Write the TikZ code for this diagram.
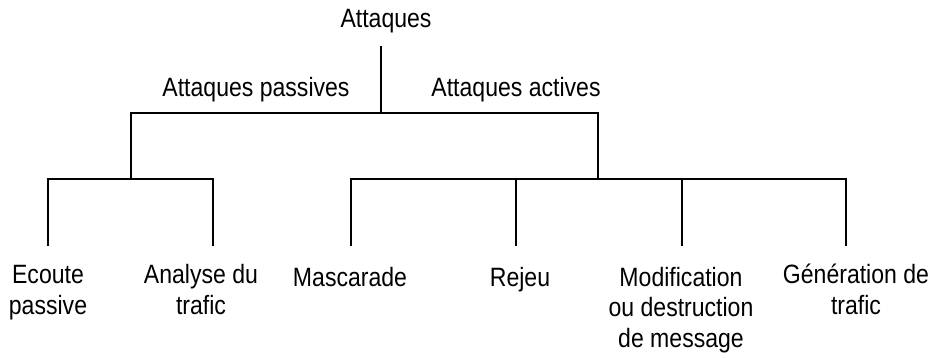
\documentclass[tikz,border=0pt]{standalone}
\usepackage{fontspec}
\setmainfont[FakeStretch=0.87]{Liberation Sans}
\begin{document}
\begin{tikzpicture}[x=1pt,y=-1pt,
  lbl/.style={inner sep=0pt,align=center,anchor=base,
    font=\fontsize{26.5}{30.5}\selectfont},
  branch/.style={line width=1.9pt,line join=miter}]
\useasboundingbox (0,0) rectangle (935,358);

% labels (anchored at the baseline of their last line)
\node[lbl] (root) at (386,28) {Attaques};
\node[lbl] (pasl) at (256,97) {Attaques passives};
\node[lbl] (actl) at (516,97) {Attaques actives};

\node[lbl] (ecoute) at (48,314) {Ecoute\\passive};
\node[lbl] (analyse) at (201,314) {Analyse du\\trafic};
\node[lbl] (masc) at (350,287) {Mascarade};
\node[lbl] (rejeu) at (520,287) {Rejeu};
\node[lbl] (modif) at (681,347) {Modification\\ou destruction\\de message};
\node[lbl] (gen) at (856,314) {Génération de\\trafic};

% junction points of the tree
\coordinate (rootend) at (381,46);
\coordinate (top) at (381,113);
\coordinate (pas) at (131,113);
\coordinate (act) at (598,113);
\coordinate (pasbar) at (131,179);
\coordinate (actbar) at (598,179);
\coordinate (e1) at (48,246);
\coordinate (e2) at (213,246);
\coordinate (e3) at (351,246);
\coordinate (e4) at (516,246);
\coordinate (e5) at (682,246);
\coordinate (e6) at (846,246);

% connectors
\draw[branch] (rootend) -- (top);
\draw[branch] (pasbar) -- (pas) -- (act) -- (actbar);
\draw[branch] (e1) |- (pasbar) -| (e2);
\draw[branch] (e3) |- (actbar) -| (e6);
\draw[branch] (e4) -- (e4 |- actbar);
\draw[branch] (e5) -- (e5 |- actbar);
\end{tikzpicture}
\end{document}
